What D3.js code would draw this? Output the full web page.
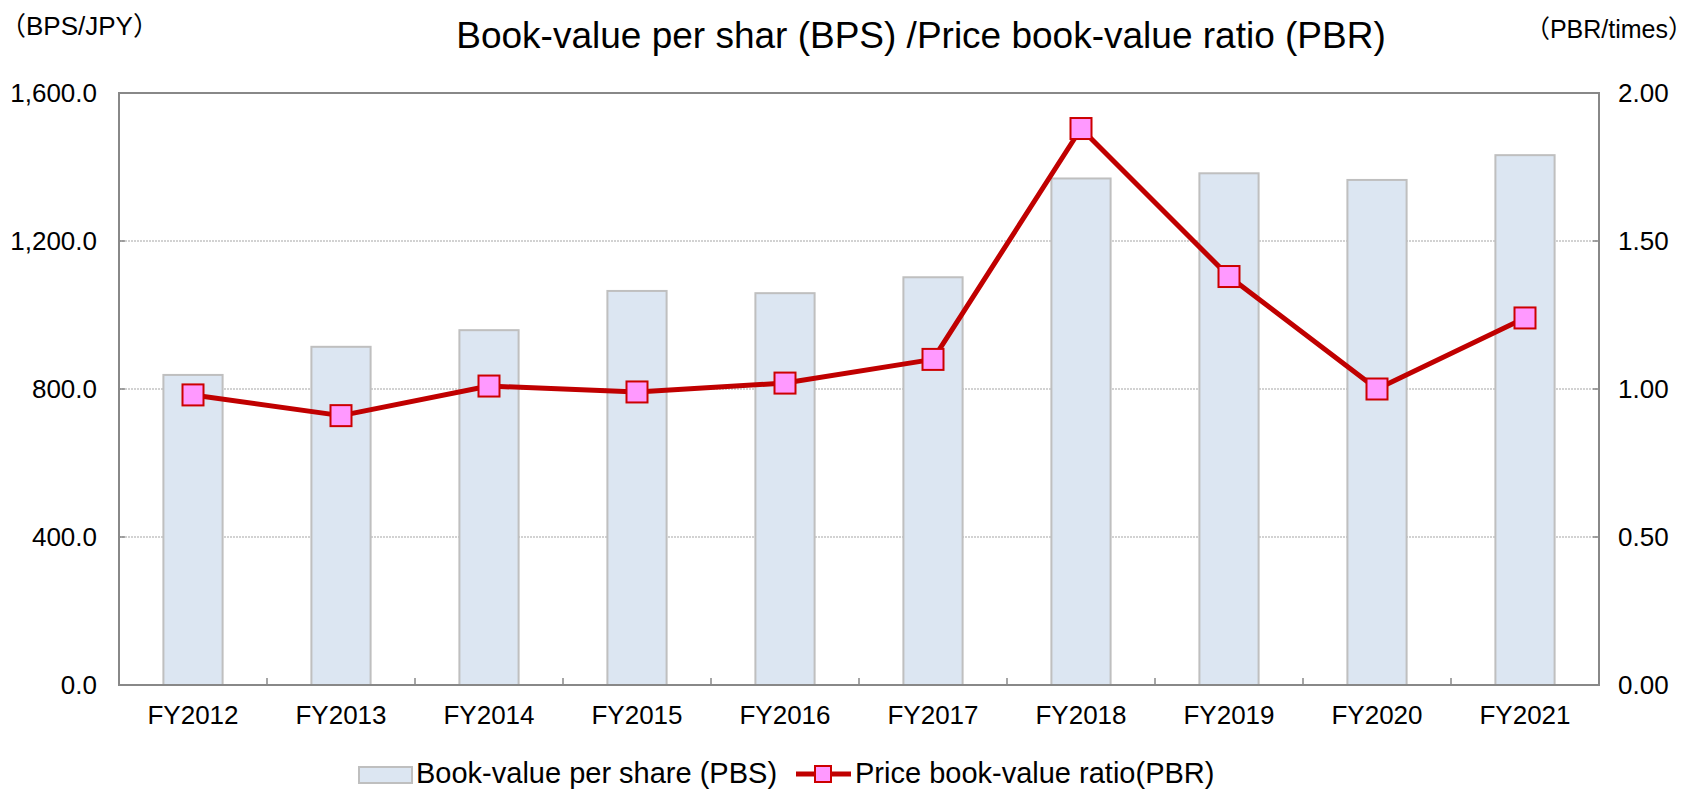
<!DOCTYPE html>
<html>
<head>
<meta charset="utf-8">
<script src="https://cdn.jsdelivr.net/npm/d3@7"></script>
<style>
  body { margin: 0; background: #fff; }
  svg { display: block; font-family: "Liberation Sans", Arial, "Noto Sans CJK JP", sans-serif; }
  .axis path, .axis line { display: none; }
  .axis text { fill: #000; }
</style>
</head>
<body>
<svg width="1696" height="793"></svg>
<script>
// data
let years = ["FY2012", "FY2013", "FY2014", "FY2015", "FY2016", "FY2017", "FY2018", "FY2019", "FY2020", "FY2021"];
let bps = [838, 914, 959, 1065, 1059, 1102, 1369, 1383, 1365, 1432];
let pbr = [0.98, 0.91, 1.01, 0.99, 1.02, 1.10, 1.88, 1.38, 1.00, 1.24];
let bpsTicks = [0, 400, 800, 1200, 1600];
let pbrTicks = [0, 0.5, 1.0, 1.5, 2.0];

let title_text = "Book-value per shar (BPS) /Price book-value ratio (PBR)";
let bar_label = "Book-value per share (PBS)";
let line_label = "Price book-value ratio(PBR)";

// plot box
var margin = { top: 93, right: 97, bottom: 108, left: 119 };
var width = 1696 - margin.left - margin.right,
  height = 793 - margin.top - margin.bottom;

var svg = d3.select("svg");
var g = svg
  .append("g")
  .attr("transform", "translate(" + margin.left + "," + margin.top + ")");

// scales
var xScale = d3.scaleBand().domain(years).range([0, width]);
var yScale = d3.scaleLinear().domain([0, 1600]).range([height, 0]);
var y2Scale = d3.scaleLinear().domain([0, 2]).range([height, 0]);

// dotted gridlines
g.selectAll(".grid")
  .data(bpsTicks.slice(1, -1))
  .enter()
  .append("line")
  .attr("class", "grid")
  .attr("x1", 0)
  .attr("x2", width)
  .attr("y1", d => yScale(d))
  .attr("y2", d => yScale(d))
  .attr("stroke", "#a6a6a6")
  .attr("stroke-width", 1.2)
  .attr("stroke-dasharray", "2,1");

// bars
var barW = xScale.bandwidth() * 0.4;
g.selectAll(".bar")
  .data(bps)
  .enter()
  .append("rect")
  .attr("class", "bar")
  .attr("x", (d, i) => xScale(years[i]) + (xScale.bandwidth() - barW) / 2)
  .attr("y", d => yScale(d))
  .attr("width", barW)
  .attr("height", d => height - yScale(d))
  .attr("fill", "#dce6f2")
  .attr("stroke", "#bfbfbf")
  .attr("stroke-width", 2);

// plot border
g.append("rect")
  .attr("width", width)
  .attr("height", height)
  .attr("fill", "none")
  .attr("stroke", "#888")
  .attr("stroke-width", 2);

// small tick marks inside the box
g.selectAll(".xtick")
  .data(years.slice(1))
  .enter()
  .append("line")
  .attr("x1", d => xScale(d))
  .attr("x2", d => xScale(d))
  .attr("y1", height)
  .attr("y2", height - 7)
  .attr("stroke", "#888")
  .attr("stroke-width", 1.5);

g.selectAll(".ytickl")
  .data(bpsTicks)
  .enter()
  .append("line")
  .attr("x1", 0)
  .attr("x2", 6)
  .attr("y1", d => yScale(d))
  .attr("y2", d => yScale(d))
  .attr("stroke", "#888")
  .attr("stroke-width", 1.5);

g.selectAll(".ytickr")
  .data(pbrTicks)
  .enter()
  .append("line")
  .attr("x1", width - 6)
  .attr("x2", width)
  .attr("y1", d => y2Scale(d))
  .attr("y2", d => y2Scale(d))
  .attr("stroke", "#888")
  .attr("stroke-width", 1.5);

// axes (labels only)
g.append("g")
  .attr("class", "axis")
  .call(
    d3.axisLeft(yScale)
      .tickValues(bpsTicks)
      .tickFormat(d3.format(",.1f"))
      .tickSize(0)
      .tickPadding(22)
  )
  .selectAll("text")
  .attr("font-size", "26px");

g.append("g")
  .attr("class", "axis")
  .attr("transform", "translate(" + width + ",0)")
  .call(
    d3.axisRight(y2Scale)
      .tickValues(pbrTicks)
      .tickFormat(d3.format(".2f"))
      .tickSize(0)
      .tickPadding(19)
  )
  .selectAll("text")
  .attr("font-size", "26px");

g.append("g")
  .attr("class", "axis")
  .attr("transform", "translate(0," + height + ")")
  .call(d3.axisBottom(xScale).tickSize(0).tickPadding(21))
  .selectAll("text")
  .attr("font-size", "26px");

// PBR line with square markers
var line = d3
  .line()
  .x((d, i) => xScale(years[i]) + xScale.bandwidth() / 2)
  .y(d => y2Scale(d));

g.append("path")
  .datum(pbr)
  .attr("d", line)
  .attr("fill", "none")
  .attr("stroke", "#c00000")
  .attr("stroke-width", 5)
  .attr("stroke-linejoin", "round");

var mk = 21;
g.selectAll(".marker")
  .data(pbr)
  .enter()
  .append("rect")
  .attr("class", "marker")
  .attr("x", (d, i) => xScale(years[i]) + xScale.bandwidth() / 2 - mk / 2)
  .attr("y", d => y2Scale(d) - mk / 2)
  .attr("width", mk)
  .attr("height", mk)
  .attr("fill", "#ff99ff")
  .attr("stroke", "#cc0000")
  .attr("stroke-width", 2);

// titles
svg.append("text")
  .attr("x", 921)
  .attr("y", 48)
  .attr("text-anchor", "middle")
  .attr("font-size", "37px")
  .text(title_text);

svg.append("text")
  .attr("x", 0)
  .attr("y", 35)
  .attr("font-size", "26px")
  .text("（BPS/JPY）");

svg.append("text")
  .attr("x", 1693)
  .attr("y", 38)
  .attr("text-anchor", "end")
  .attr("font-size", "25px")
  .text("（PBR/times）");

// legend
var legend = svg.append("g").attr("transform", "translate(0,775)");
legend.append("rect")
  .attr("x", 359)
  .attr("y", -8)
  .attr("width", 53)
  .attr("height", 16)
  .attr("fill", "#dce6f2")
  .attr("stroke", "#bfbfbf")
  .attr("stroke-width", 2);
legend.append("text")
  .attr("x", 416)
  .attr("y", 8)
  .attr("font-size", "29px")
  .text(bar_label);

legend.append("line")
  .attr("x1", 796)
  .attr("x2", 851)
  .attr("y1", -1)
  .attr("y2", -1)
  .attr("stroke", "#c00000")
  .attr("stroke-width", 5);
legend.append("rect")
  .attr("x", 815)
  .attr("y", -9)
  .attr("width", 16)
  .attr("height", 16)
  .attr("fill", "#ff99ff")
  .attr("stroke", "#cc0000")
  .attr("stroke-width", 2);
legend.append("text")
  .attr("x", 855)
  .attr("y", 8)
  .attr("font-size", "29px")
  .text(line_label);
</script>
</body>
</html>
